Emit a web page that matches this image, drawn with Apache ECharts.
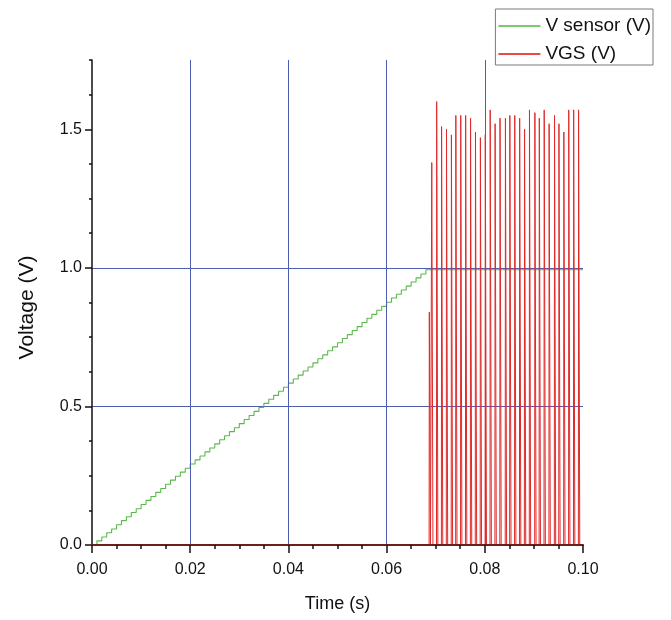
<!DOCTYPE html>
<html>
<head>
<meta charset="utf-8">
<script src="https://cdn.jsdelivr.net/npm/echarts@6/dist/echarts.min.js"></script>
<style>
html,body{margin:0;padding:0;background:#fff;}
#chart{width:671px;height:620px;}
</style>
</head>
<body>
<div id="chart"></div>
<script>
// ---- data ----
// V sensor: staircase sample times (ms) and levels (V)
var sensorTimeMs = [0,1,2,3,4,5,6,7,8,9,10,11,12,13,14,15,16,17,18,19,20,21,22,23,24,25,26,27,28,29,30,31,32,33,34,35,36,37,38,39,40,41,42,43,44,45,46,47,48,49,50,51,52,53,54,55,56,57,58,59,60,61,62,63,64,65,66,67,68,100];
var sensorVolts = [0.000,0.015,0.029,0.044,0.058,0.073,0.088,0.102,0.117,0.131,
  0.146,0.161,0.175,0.190,0.204,0.219,0.234,0.248,0.263,0.277,
  0.292,0.307,0.321,0.336,0.350,0.365,0.380,0.394,0.409,0.423,
  0.438,0.453,0.467,0.482,0.496,0.511,0.526,0.540,0.555,0.569,
  0.584,0.599,0.613,0.628,0.642,0.657,0.672,0.686,0.701,0.715,
  0.730,0.745,0.759,0.774,0.788,0.803,0.818,0.832,0.847,0.861,
  0.876,0.891,0.905,0.920,0.934,0.949,0.964,0.978,0.993,0.993];
// VGS: pulse times (s) and peak voltages (V)
var vgsPulseTime = [0.0687,0.0692,0.0702,0.0712,0.0722,0.0732,0.0741,0.0751,0.0761,0.0771,0.0781,
  0.0791,0.0801,0.0811,0.0821,0.0831,0.0842,0.0851,0.0861,0.0871,0.0881,
  0.0891,0.0902,0.0911,0.0921,0.0931,0.0942,0.0951,0.0961,0.0971,0.0981,0.0991];
var vgsPulsePeak = [0.84,1.38,1.60,1.51,1.50,1.48,1.55,1.55,1.55,1.54,1.49,
  1.47,1.48,1.57,1.52,1.54,1.54,1.55,1.55,1.54,1.50,
  1.57,1.56,1.54,1.57,1.52,1.55,1.52,1.49,1.57,1.57,1.57];
var xTicks = [0, 0.02, 0.04, 0.06, 0.08, 0.10];
var yTicks = [0, 0.5, 1.0, 1.5];
var seriesNames = ['V sensor (V)', 'VGS (V)'];

// ---- build series data ----
var sensorData = sensorTimeMs.map(function(t, i){ return [t / 1000, sensorVolts[i]]; });
var riseEdge = 0.00004, fallEdge = 0.00024;
var vgsData = [[0, 0]];
vgsPulseTime.forEach(function(t, i){
  vgsData.push([t - riseEdge, 0]);
  vgsData.push([t, vgsPulsePeak[i]]);
  vgsData.push([t + fallEdge, 0]);
});
vgsData.push([0.1, 0]);

var font = '"Liberation Sans", Arial, sans-serif';
var gridBlue = '#4d5db0';
var green = '#5cb84e';
var red = '#e02a2a';

var chart = echarts.init(document.getElementById('chart'), null, {renderer: 'canvas'});
chart.setOption({
  animation: false,
  backgroundColor: '#ffffff',
  grid: {left: 92, right: 88, top: 60, bottom: 75, containLabel: false, outerBoundsMode: 'none'},
  legend: {
    data: [
      {name: seriesNames[0], icon: 'rect', itemStyle: {color: '#7acb6e'}},
      {name: seriesNames[1], icon: 'rect', itemStyle: {color: '#e84a4a'}}
    ],
    orient: 'vertical',
    right: 18,
    top: 9,
    backgroundColor: '#ffffff',
    borderColor: '#7a7a7a',
    borderWidth: 1,
    padding: [6, 2, 0, 3],
    itemGap: 6,
    itemWidth: 42,
    itemHeight: 2,
    textStyle: {fontFamily: font, fontSize: 19, lineHeight: 22, color: '#111'}
  },
  xAxis: [{
    type: 'value', position: 'bottom', min: 0, max: 0.1, interval: 0.02, z: 5,
    name: 'Time (s)', nameLocation: 'middle', nameGap: 50,
    nameTextStyle: {fontFamily: font, fontSize: 18, color: '#111'},
    axisLine: {show: true, onZero: false, lineStyle: {color: '#6e1c1c', width: 2}},
    axisTick: {show: true, inside: false, length: 8, lineStyle: {color: '#111', width: 1.5}},
    axisLabel: {show: true, margin: 17, fontFamily: font, fontSize: 16, color: '#111',
      customValues: xTicks,
      formatter: function(v){ return v.toFixed(2); }},
    splitLine: {show: true, showMinLine: false, showMaxLine: false, lineStyle: {color: gridBlue, width: 1}}
  }, {
    type: 'value', position: 'bottom', min: 0, max: 0.1, interval: 0.005, z: 5,
    axisLine: {show: false},
    axisTick: {show: true, inside: false, length: 4, lineStyle: {color: '#111', width: 1.5}},
    axisLabel: {show: false},
    splitLine: {show: false}
  }],
  yAxis: [{
    type: 'value', position: 'left', min: 0, max: 1.75, interval: 0.5,
    name: 'Voltage (V)', nameLocation: 'middle', nameGap: 54, nameRotate: 90,
    nameTextStyle: {fontFamily: font, fontSize: 21, color: '#111', padding: [0, 10, 0, 0]},
    axisLine: {show: true, onZero: false, lineStyle: {color: '#111', width: 1.5}},
    axisTick: {show: true, inside: false, length: 7, customValues: yTicks, lineStyle: {color: '#111', width: 1.5}},
    axisLabel: {show: true, margin: 10, fontFamily: font, fontSize: 16, color: '#111',
      customValues: yTicks,
      formatter: function(v){ return v > 1.6 ? '' : v.toFixed(1); }},
    splitLine: {show: true, showMinLine: false, showMaxLine: false, lineStyle: {color: gridBlue, width: 1}}
  }, {
    type: 'value', position: 'left', min: 0, max: 1.75, interval: 0.125,
    axisLine: {show: false},
    axisTick: {show: true, inside: false, length: 3, lineStyle: {color: '#111', width: 1.5}},
    axisLabel: {show: false},
    splitLine: {show: false}
  }],
  series: [{
    name: seriesNames[0], type: 'line', xAxisIndex: 0, yAxisIndex: 0,
    data: sensorData, step: 'end', symbol: 'none', showSymbol: false,
    lineStyle: {color: green, width: 1.1}, itemStyle: {color: green}, z: 2
  }, {
    name: seriesNames[1], type: 'line', xAxisIndex: 0, yAxisIndex: 0,
    data: vgsData, symbol: 'none', showSymbol: false,
    lineStyle: {color: red, width: 1}, itemStyle: {color: red}, z: 3
  }]
});
</script>
</body>
</html>
